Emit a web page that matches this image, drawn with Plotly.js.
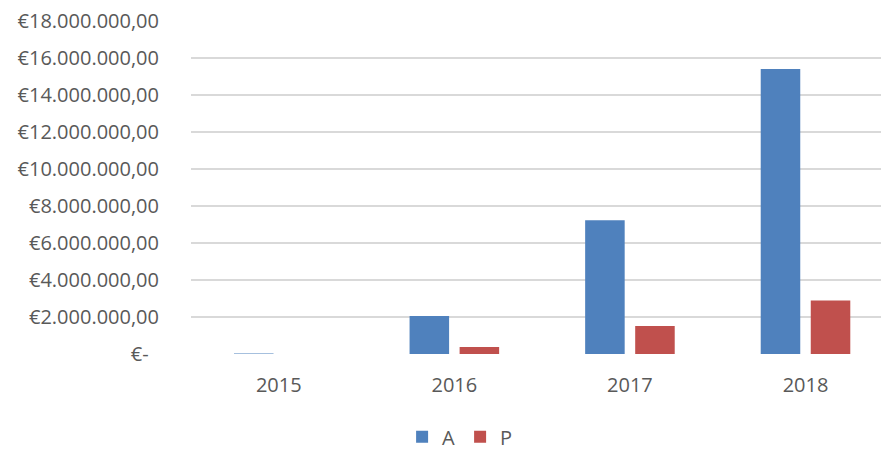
<!DOCTYPE html>
<html>
<head>
<meta charset="utf-8">
<script src="https://cdn.plot.ly/plotly-3.0.1.min.js"></script>
<style>html,body{margin:0;padding:0;background:#fff;}#chart{width:881px;height:450px;}</style>
</head>
<body>
<div id="chart"></div>
<script>
const years = ["2015", "2016", "2017", "2018"];
const seriesA = [25000, 2050000, 7230000, 15400000];
const seriesP = [5000, 380000, 1510000, 2890000];
const tickVals = [0, 2000000, 4000000, 6000000, 8000000, 10000000, 12000000, 14000000, 16000000, 18000000];
const tickText = ["€-\u00a0\u00a0", "€2.000.000,00", "€4.000.000,00", "€6.000.000,00", "€8.000.000,00", "€10.000.000,00", "€12.000.000,00", "€14.000.000,00", "€16.000.000,00", "€18.000.000,00"];

const font = {family: "Open Sans, Liberation Sans, sans-serif", size: 20, color: "#595959"};

const data = [
  {type: "bar", name: "A", x: years, y: seriesA, marker: {color: "#4f81bd"}},
  {type: "bar", name: "P", x: years, y: seriesP, marker: {color: "#c0504d"}}
];

const layout = {
  width: 881, height: 450,
  margin: {l: 191, r: 0, t: 21, b: 96, autoexpand: false},
  paper_bgcolor: "#ffffff", plot_bgcolor: "#ffffff",
  font: font,
  barmode: "group",
  bargap: 0.43,
  bargroupgap: 0.21,
  showlegend: true,
  legend: {orientation: "h", x: 0.39, xref: "paper", y: -0.19, yanchor: "top", xanchor: "center", yref: "paper", font: font, tracegroupgap: 0},
  xaxis: {
    type: "category", range: [-0.5, 3.43],
    showgrid: false, zeroline: false, showline: false,
    ticks: "outside", ticklen: 13, tickcolor: "rgba(0,0,0,0)",
    tickfont: font
  },
  yaxis: {
    range: [0, 18000000],
    tickmode: "array", tickvals: tickVals, ticktext: tickText,
    showgrid: true, gridcolor: "#d9d9d9", gridwidth: 1.5,
    zeroline: false, showline: false,
    ticks: "outside", ticklen: 27, tickcolor: "rgba(0,0,0,0)",
    tickfont: font
  }
};

Plotly.newPlot("chart", data, layout, {displayModeBar: false, staticPlot: true});
</script>
</body>
</html>
